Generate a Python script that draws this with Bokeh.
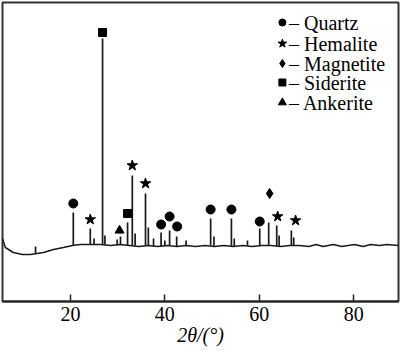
from bokeh.plotting import figure
from bokeh.models import Range1d, FixedTicker
from bokeh.core.properties import value
from bokeh.embed import file_html
from bokeh.resources import INLINE

# ---- data (2theta in degrees, intensity in arbitrary units) ----
base_x = [5.6, 6.2, 7.9, 9.8, 11.5, 14.3, 16.4, 18.5, 20.4, 22.1, 24.2, 26.4, 28.5,
          30.5, 32.5, 34.5, 36.5, 38.5, 40.5, 42.5, 44.5, 46.5, 48.5, 50.5, 52.5,
          54.5, 56.5, 58.5, 60.5, 62.5, 64.5, 66.5, 68.5, 70.5, 72.1, 73.5, 75.7,
          77.5, 80.2, 82.0, 83.6, 85.5, 87.0, 89.5]
base_y = [63, 54, 49, 47, 47, 49, 52, 54, 56, 57, 57, 57, 56,
          57, 56, 55, 56, 55, 56, 55, 56, 55, 56, 55, 56,
          55, 56, 55, 56, 56, 55, 56, 56, 55, 57, 55, 57,
          55, 57, 55, 57, 56, 57, 56]

peak_x = [12.6, 20.6, 24.2, 25.0, 26.8, 27.3, 29.9, 30.6, 32.1, 33.1, 33.7, 35.9,
          36.5, 37.6, 39.2, 40.0, 41.0, 42.5, 44.5, 49.7, 50.4, 54.1, 54.7, 57.5,
          60.1, 62.0, 63.7, 64.2, 66.8, 67.3]
peak_base = [48, 56, 57, 57, 57, 57, 56, 57, 56, 56, 56, 56,
             56, 55, 55, 56, 56, 55, 56, 56, 55, 55, 55, 56,
             56, 56, 55, 55, 56, 56]
peak_top = [55, 89, 73, 63, 263, 66, 62, 65, 79, 126, 68, 108,
            74, 63, 69, 61, 71, 65, 61, 83, 65, 83, 63, 61,
            73, 79, 76, 66, 71, 64]

quartz_x = [20.6, 39.2, 41.0, 42.6, 49.7, 54.1, 60.1]
quartz_y = [98, 77, 85, 75, 92, 92, 80]
hematite_x = [24.2, 33.1, 35.9, 63.9, 67.7]
hematite_y = [82, 136, 118, 85, 81]
magnetite_x = [62.2]
magnetite_y = [108]
siderite_x = [26.8, 32.1]
siderite_y = [269, 88]
ankerite_x = [30.4]
ankerite_y = [71]

phase_names = ["Quartz", "Hemalite", "Magnetite", "Siderite", "Ankerite"]
phase_markers = ["circle", "star", "diamond", "square", "triangle"]
x_ticks = [20, 40, 60, 80]

FONT = "Liberation Serif"
INK = "#1a1a1a"

p = figure(width=400, height=351, output_backend="svg", toolbar_location=None,
           x_range=Range1d(5.6, 89.5), y_range=Range1d(0, 299),
           y_axis_location=None,
           min_border_left=2, min_border_right=2, min_border_top=2, min_border_bottom=50)
p.background_fill_color = "white"
p.border_fill_color = "white"
p.outline_line_color = "#333333"
p.outline_line_width = 2
p.xgrid.visible = False
p.ygrid.visible = False

ax = p.xaxis[0]
ax.ticker = FixedTicker(ticks=x_ticks)
ax.major_tick_in = 7
ax.major_tick_out = 0
ax.minor_tick_line_color = None
ax.axis_line_width = 2
ax.axis_line_color = "#222222"
ax.major_tick_line_color = "#222222"
ax.major_tick_line_width = 1.5
ax.major_label_text_font = FONT
ax.major_label_text_font_size = "20px"
ax.major_label_text_color = "black"
ax.major_label_standoff = 5
ax.axis_label = "2θ/(°)"
ax.axis_label_text_font = FONT
ax.axis_label_text_font_size = "20px"
ax.axis_label_text_font_style = "italic"
ax.axis_label_text_color = "black"
ax.axis_label_standoff = 0

p.line(base_x, base_y, line_color=INK, line_width=1.5)
p.segment(x0=peak_x, y0=peak_base, x1=peak_x, y1=peak_top, line_color=INK, line_width=1.7)

p.scatter(quartz_x, quartz_y, marker="circle", size=9, color="black")
p.scatter(hematite_x, hematite_y, marker="star", size=11, color="black")
p.scatter(magnetite_x, magnetite_y, marker="diamond", size=10, color="black")
p.scatter(siderite_x, siderite_y, marker="square", size=8, color="black")
p.scatter(ankerite_x, ankerite_y, marker="triangle", size=9, color="black")

# ---- legend (drawn inside the frame, top right) ----
leg_marker_x = 64.9
leg_text_x = 66.3
leg_rows_y = [279, 258, 238, 219, 199]
leg_sizes = [7, 9, 8, 7, 8]
for name, mk, yy, sz in zip(phase_names, phase_markers, leg_rows_y, leg_sizes):
    p.scatter([leg_marker_x], [yy], marker=mk, size=sz, color="black")
p.text(x=[leg_text_x] * len(phase_names), y=leg_rows_y,
       text=["– " + n for n in phase_names],
       text_font=value(FONT), text_font_size="20px", text_color="black",
       text_align="left", text_baseline="middle")

open("out.html", "w").write(file_html(p, INLINE))
